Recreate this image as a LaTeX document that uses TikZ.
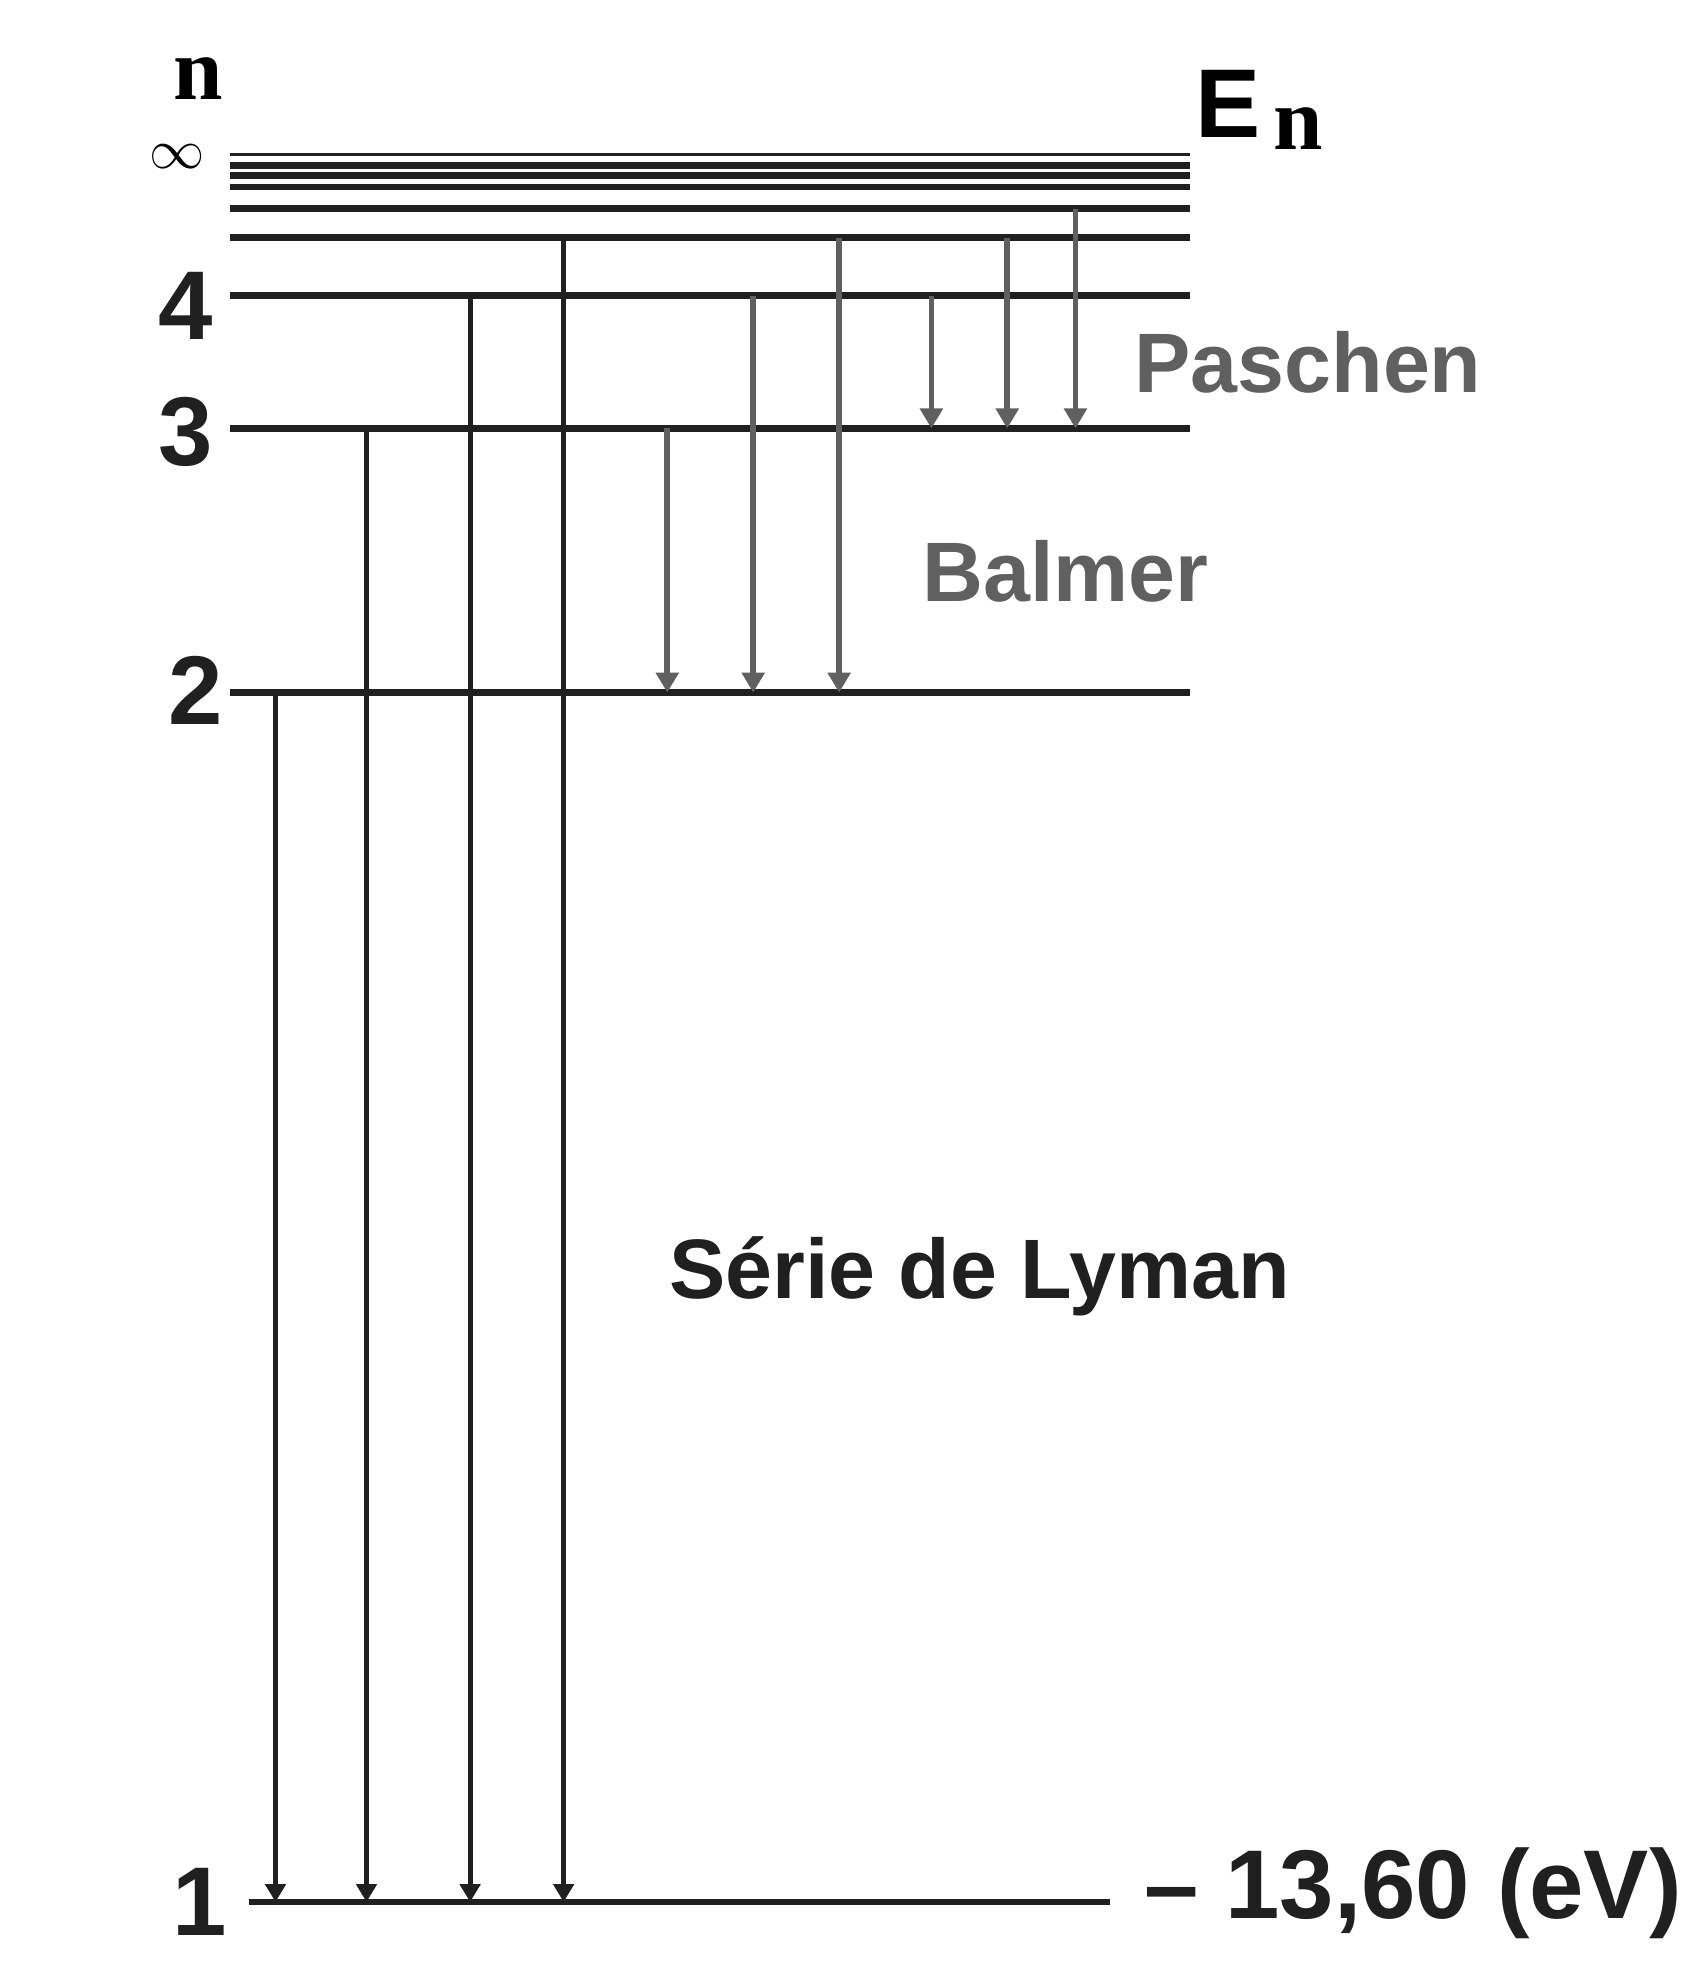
\documentclass[tikz,border=0pt]{standalone}
\usepackage{fontspec}
\setmainfont{Liberation Serif}
\setsansfont{Liberation Sans}
\usetikzlibrary{arrows.meta}
\definecolor{dk}{HTML}{202020}
\definecolor{gr}{HTML}{606060}
\begin{document}
\begin{tikzpicture}[x=0.02cm,y=-0.02cm,
 lev/.style={dk,line width=3pt},
 ly/.style={dk,line width=2.2pt,-{Triangle[width=9pt,length=8pt]}},
 gy/.style={gr,line width=2.6pt,-{Triangle[width=10pt,length=9pt]}},
 num/.style={font=\sffamily\bfseries\fontsize{44}{44}\selectfont,text=dk,inner sep=0pt},
 lab/.style={font=\sffamily\bfseries\fontsize{38}{38}\selectfont,inner sep=0pt}]
\useasboundingbox (0,0) rectangle (1330,1562);
% levels
\draw[line width=1.5pt,dk] (182,122) -- (942,122);
\foreach \y in {131,139,148,165}{\draw[lev] (182,\y) -- (942,\y);}
\draw[lev] (182,188) coordinate (L5a) -- (942,188) coordinate (L5b);
\draw[lev] (182,234) coordinate (L4a) -- (942,234) coordinate (L4b);
\draw[lev] (182,339) coordinate (L3a) -- (942,339) coordinate (L3b);
\draw[lev] (182,548) coordinate (L2a) -- (942,548) coordinate (L2b);
\draw[lev] (197,1505) coordinate (L1a) -- (878,1505) coordinate (L1b);
% labels
\node[font=\rmfamily\bfseries\fontsize{40}{40}\selectfont,inner sep=0pt] (nn) at (157,62) {n};
\node[font=\fontsize{52}{52}\selectfont,inner sep=0pt] (inf) at (140,124) {$\infty$};
\node[num] (n4) at (147,242) {4};
\node[num] (n3) at (147,342) {3};
\node[num] (n2) at (155,546) {2};
\node[num] (n1) at (158,1505) {1};
\node[font=\sffamily\bfseries\fontsize{44}{44}\selectfont,inner sep=0pt] (E) at (972,82) {E};
\node[font=\rmfamily\bfseries\fontsize{40}{40}\selectfont,inner sep=0pt] (En) at (1027,102) {n};
\node[lab,text=gr] (pa) at (1035,287) {Paschen};
\node[lab,text=gr] (ba) at (843,452) {Balmer};
\node[lab,text=dk] (ly) at (775,1010) {Série de Lyman};
\node[num,anchor=west] (ev) at (905,1498) {– 13,60 (eV)};
% Lyman
\foreach \x/\y in {218/548,290/339,372/234,446/188}{
 \coordinate (s) at (\x,\y); \coordinate (t) at (\x,1505);
 \draw[ly] (s) -- (t);}
% Balmer
\foreach \x/\y in {528/339,596/234,664/188}{
 \coordinate (s) at (\x,\y); \coordinate (t) at (\x,548);
 \draw[gy] (s) -- (t);}
% Paschen
\foreach \x/\y in {737/234,797/188,851/165}{
 \coordinate (s) at (\x,\y); \coordinate (t) at (\x,339);
 \draw[gy] (s) -- (t);}
\end{tikzpicture}
\end{document}
